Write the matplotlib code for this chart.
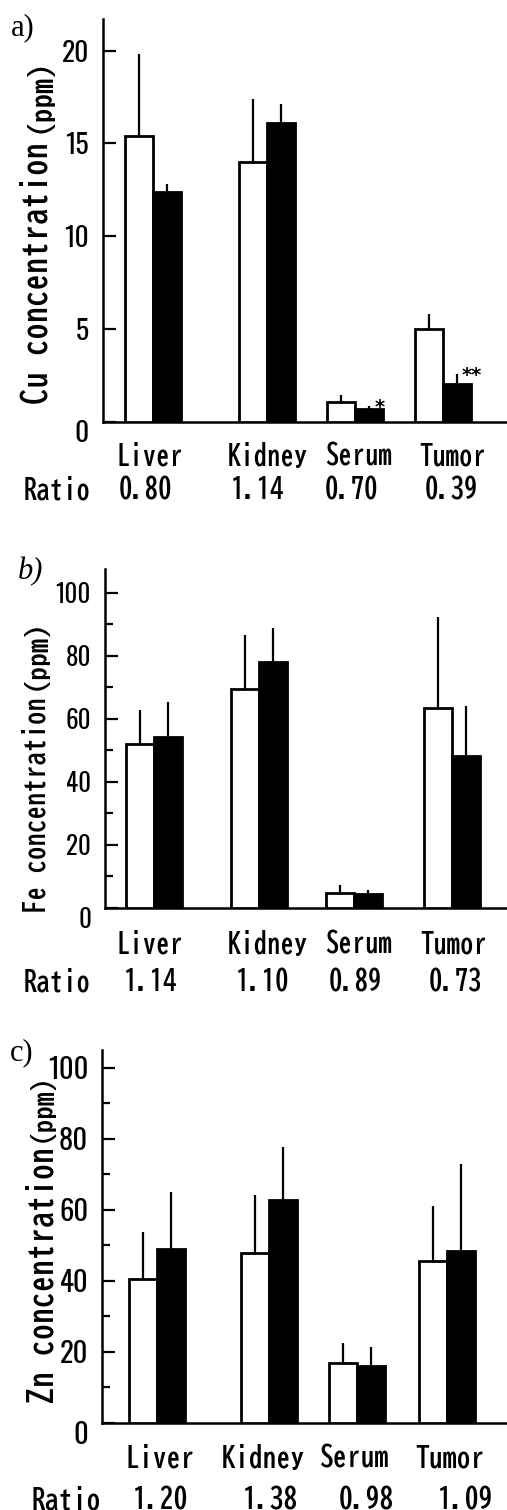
import matplotlib
matplotlib.use("Agg")
import numpy as np
import matplotlib.pyplot as plt
import matplotlib.font_manager as fm
from matplotlib.transforms import ScaledTranslation

# ---------------- data ----------------
categories = ["Liver", "Kidney", "Serum", "Tumor"]

cu_control = [15.4, 14.0, 1.1, 5.0]
cu_control_sd = [4.4, 3.4, 0.35, 0.8]
cu_treated = [12.4, 16.1, 0.7, 2.05]
cu_treated_sd = [0.4, 1.0, 0.16, 0.55]
cu_ratio = ["0.80", "1.14", "0.70", "0.39"]
cu_marks = ["", "", "*", "**"]

fe_control = [52.0, 69.5, 4.8, 63.5]
fe_control_sd = [11.0, 17.2, 2.5, 29.0]
fe_treated = [54.3, 78.0, 4.4, 48.3]
fe_treated_sd = [11.1, 11.0, 1.3, 15.7]
fe_ratio = ["1.14", "1.10", "0.89", "0.73"]
fe_marks = ["", "", "", ""]

zn_control = [40.5, 47.9, 16.9, 45.6]
zn_control_sd = [13.3, 16.3, 5.6, 15.5]
zn_treated = [49.0, 62.8, 16.1, 48.5]
zn_treated_sd = [16.0, 14.9, 5.3, 24.5]
zn_ratio = ["1.20", "1.38", "0.98", "1.09"]
zn_marks = ["", "", "", ""]

# ---------------- fonts ----------------
names = {f.name for f in fm.fontManager.ttflist}


def pick(cands):
    for c in cands:
        if c in names:
            return c
    return cands[-1]


NARROW = pick(["Oswald", "Roboto Condensed", "Archivo Narrow", "PT Sans Narrow",
               "Liberation Sans Narrow", "DejaVu Sans"])
MONO = pick(["BIZ UDGothic", "M PLUS 1 Code", "DejaVu Sans Mono"])
SERIF = "Liberation Serif"

NARROW_CAP = {"Oswald": 0.80, "Roboto Condensed": 0.71, "Archivo Narrow": 0.72,
              "PT Sans Narrow": 0.70, "Liberation Sans Narrow": 0.72}.get(NARROW, 0.73)
PX_PER_PT = 100 / 72
TEXT_W = "bold"


def tick_size(h_px):
    return h_px / NARROW_CAP / PX_PER_PT


W, H = 507, 1510
fig = plt.figure(figsize=(W / 100, H / 100), dpi=100)
renderer = fig.canvas.get_renderer()


def fx(px):
    return px / W


def fy(py):
    return 1 - py / H


def ink(t):
    """Ink extent of text t in image pixels: (x0, x1, y0, y1), y from the top."""
    fig.canvas.draw()
    img = np.asarray(fig.canvas.buffer_rgba())[:, :, :3]
    bb = t.get_window_extent(fig.canvas.get_renderer())
    xa, xb = max(int(bb.x0) - 1, 0), min(int(np.ceil(bb.x1)) + 1, W)
    ya, yb = max(H - int(np.ceil(bb.y1)) - 1, 0), min(H - int(bb.y0) + 1, H)
    sub = img[ya:yb, xa:xb].min(axis=2) < 140
    rows = np.where(sub.any(axis=1))[0]
    cols = np.where(sub.any(axis=0))[0]
    if len(rows) == 0:
        return None
    return xa + cols.min(), xa + cols.max(), ya + rows.min(), ya + rows.max()


def fit_vertical(t, top_px, bottom_px, xc_px):
    """Scale and move a rotated text so that its ink spans top..bottom, centred on xc."""
    for _ in range(2):
        e = ink(t)
        if e is None:
            return
        t.set_fontsize(t.get_fontsize() * (bottom_px - top_px) / max(e[3] - e[2], 1))
    e = ink(t)
    x, y = t.get_position()
    dy = (top_px + bottom_px) / 2 - (e[2] + e[3]) / 2
    dx = xc_px - (e[0] + e[1]) / 2
    t.set_position((x + dx / W, y - dy / H))


panels = [
    dict(tag="a)", tag_style="normal", tag_xy=(23, 28),
         element="Cu", ctrl=cu_control, csd=cu_control_sd, trt=cu_treated, tsd=cu_treated_sd,
         ratio=cu_ratio, marks=cu_marks,
         axis_x=103, top=19, base=422, ymax=21.7, major=[0, 5, 10, 15, 20], minor=[],
         groups=[153, 267, 355, 443], bw=28,
         tick_h=22, kidney_w=80, lab_y=455, ratio_y=488,
         lab_x=[150, 268, 359, 453], ratio_x=[145, 258, 352, 451], ratio_word_x=57,
         ylab=(145, 403, 33), ppm=(68, 133, 39)),
    dict(tag="b)", tag_style="italic", tag_xy=(31, 572),
         element="Fe", ctrl=fe_control, csd=fe_control_sd, trt=fe_treated, tsd=fe_treated_sd,
         ratio=fe_ratio, marks=fe_marks,
         axis_x=105, top=569, base=908, ymax=107.6, major=[0, 20, 40, 60, 80, 100],
         minor=[10, 30, 50, 70, 90],
         groups=[154, 259, 354, 452], bw=28,
         tick_h=20, kidney_w=80, lab_y=943, ratio_y=980,
         lab_x=[150, 268, 359, 454], ratio_x=[151, 263, 356, 456], ratio_word_x=57,
         ylab=(700, 911, 32), ppm=(628, 690, 36)),
    dict(tag="c)", tag_style="normal", tag_xy=(22, 1053),
         element="Zn", ctrl=zn_control, csd=zn_control_sd, trt=zn_treated, tsd=zn_treated_sd,
         ratio=zn_ratio, marks=zn_marks,
         axis_x=102, top=1050, base=1423, ymax=105, major=[0, 20, 40, 60, 80, 100],
         minor=[10, 30, 50, 70, 90],
         groups=[157, 269, 357, 447], bw=28,
         tick_h=23, kidney_w=83, lab_y=1457, ratio_y=1499,
         lab_x=[160, 263, 354, 450], ratio_x=[161, 271, 366, 466], ratio_word_x=66,
         ylab=(1150, 1402, 39), ppm=(1073, 1142, 42)),
]

fit_jobs = []
for p in panels:
    left = fx(p["axis_x"])
    bottom = fy(p["base"])
    ax = fig.add_axes([left, bottom, 1 - left, (p["base"] - p["top"]) / H])
    ax.set_xlim(p["axis_x"], W)
    ax.set_ylim(0, p["ymax"])

    xs_c = [g - p["bw"] / 2 for g in p["groups"]]
    xs_t = [g + p["bw"] / 2 for g in p["groups"]]
    ax.bar(xs_c, p["ctrl"], width=p["bw"], color="white", edgecolor="black",
           linewidth=2.0, zorder=3)
    ax.bar(xs_t, p["trt"], width=p["bw"], color="black", edgecolor="black",
           linewidth=2.0, zorder=3)
    ax.errorbar(xs_c, p["ctrl"], yerr=[[0] * len(p["ctrl"]), p["csd"]], fmt="none",
                ecolor="black", elinewidth=1.6, capsize=0, zorder=2)
    ax.errorbar(xs_t, p["trt"], yerr=[[0] * len(p["trt"]), p["tsd"]], fmt="none",
                ecolor="black", elinewidth=1.6, capsize=0, zorder=2)
    for x, v, s, m in zip(xs_t, p["trt"], p["tsd"], p["marks"]):
        if m:
            ax.annotate(m, (x, v + s), xytext=(5 + 3 * len(m), -1), textcoords="offset points",
                        ha="center", va="center", fontsize=14, fontweight="bold",
                        family="DejaVu Sans")

    for s in ["top", "right"]:
        ax.spines[s].set_visible(False)
    ax.spines["left"].set_linewidth(1.8)
    ax.spines["bottom"].set_linewidth(1.8)
    ax.set_xticks([])
    ax.set_yticks(p["major"])
    ax.set_yticks(p["minor"], minor=True)
    ax.tick_params(axis="y", which="major", direction="in", length=9.5, width=1.6,
                   pad=10, labelsize=tick_size(p["tick_h"]))
    ax.tick_params(axis="y", which="minor", direction="in", length=5.8, width=1.6)
    for lab in ax.get_yticklabels():
        lab.set_family(NARROW)
        lab.set_fontweight("bold")
    zero = ax.yaxis.get_major_ticks()[0].label1
    zero.set_transform(zero.get_transform() + ScaledTranslation(0, -9 / 100, fig.dpi_scale_trans))
    ax.set_facecolor("none")

    texts = []
    for c, x in zip(categories, p["lab_x"]):
        texts.append(fig.text(fx(x), fy(p["lab_y"]), c, ha="center", va="center",
                              fontsize=16, family=MONO, fontweight=TEXT_W))
    bb = texts[1].get_window_extent(renderer)
    lab_fs = 16 * p["kidney_w"] / bb.width
    for t in texts:
        t.set_fontsize(lab_fs)
    fig.text(fx(p["ratio_word_x"]), fy(p["ratio_y"]), "Ratio", ha="center", va="center",
             fontsize=lab_fs, family=MONO, fontweight=TEXT_W)
    for r, x in zip(p["ratio"], p["ratio_x"]):
        fig.text(fx(x), fy(p["ratio_y"]), r, ha="center", va="center",
                 fontsize=lab_fs, family=MONO, fontweight=TEXT_W)

    yl = fig.text(fx(p["ylab"][2]), fy((p["ylab"][0] + p["ylab"][1]) / 2),
                  p["element"] + " concentration", rotation=90, ha="center", va="center",
                  fontsize=18, family=MONO, fontweight=TEXT_W)
    pp = fig.text(fx(p["ppm"][2]), fy((p["ppm"][0] + p["ppm"][1]) / 2), "(ppm)",
                  rotation=90, ha="center", va="center", fontsize=15, family=MONO,
                  fontweight=TEXT_W)
    fit_jobs.append((yl, p["ylab"]))
    fit_jobs.append((pp, p["ppm"]))

    fig.text(fx(p["tag_xy"][0]), fy(p["tag_xy"][1]), p["tag"], ha="center", va="center",
             fontsize=22, family=SERIF, style=p["tag_style"])

for t, (top_px, bottom_px, xc) in fit_jobs:
    fit_vertical(t, top_px, bottom_px, xc)

fig.savefig("out.png", dpi=100)
